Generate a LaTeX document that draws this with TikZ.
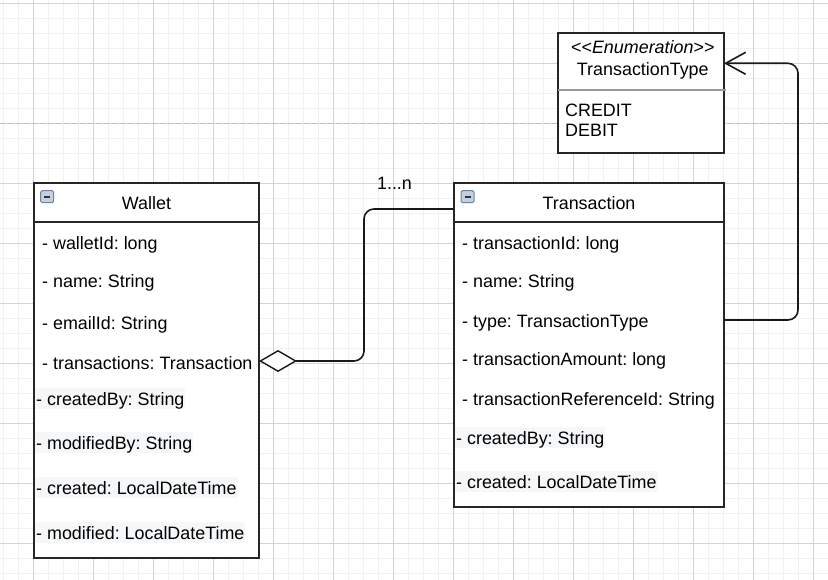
\documentclass[tikz,border=0pt]{standalone}
\usepackage{fontspec}
\setmainfont{Liberation Sans}
\frenchspacing
\usetikzlibrary{arrows.meta}
\definecolor{gridmin}{HTML}{F1F1F1}
\definecolor{gridmaj}{HTML}{D4D4D4}
\definecolor{boxln}{HTML}{262626}
\definecolor{hlc}{HTML}{F6F7F9}
\definecolor{sepgray}{HTML}{9A9A9A}
\definecolor{iconfill}{HTML}{C4D0E0}
\definecolor{iconline}{HTML}{6F839E}
\newcommand\dfont{\fontsize{17.9pt}{21pt}\selectfont}
\begin{document}
\begin{tikzpicture}[x=1pt,y=-1pt,
  umlbox/.style={draw=boxln, line width=1.7pt, fill=white, inner sep=0pt, outer sep=0pt, anchor=north west},
  attr/.style={inner sep=0pt, anchor=base west, font=\dfont, text=black},
  hl/.style={attr, fill=hlc, inner xsep=1pt, text height=17pt, text depth=4pt},
  title/.style={inner sep=0pt, anchor=base, font=\dfont, text=black},
  conn/.style={draw=black!90, line width=1.6pt, rounded corners=10pt},
  minusicon/.pic={
    \draw[iconline, fill=iconfill, line width=1pt, rounded corners=1.5pt] (0,0) rectangle (13,12);
    \draw[black!80, line width=1.8pt] (3.5,6) -- (9.5,6);
  }]
\useasboundingbox (0,0) rectangle (828,580);
\fill[white] (0,0) rectangle (828,580);
% grid
\foreach \i in {0,...,55} {\draw[gridmin, line width=1pt] ({3.3+15*\i},0) -- ({3.3+15*\i},580);}
\foreach \i in {0,...,38} {\draw[gridmin, line width=1pt] (0,{3.3+15*\i}) -- (828,{3.3+15*\i});}
\foreach \i in {0,...,13} {\draw[gridmaj, line width=1pt] ({33.3+60*\i},0) -- ({33.3+60*\i},580);}
\foreach \i in {0,...,9} {\draw[gridmaj, line width=1pt] (0,{3.3+60*\i}) -- (828,{3.3+60*\i});}
% page break
\draw[black!25, line width=1pt, dash pattern=on 5pt off 3pt] (0,123.3) -- (828,123.3);

% Wallet
\node[umlbox, minimum width=225pt, minimum height=375pt] (wallet) at (34,183) {};
\draw[boxln, line width=1.7pt] (34,222.3) -- (259,222.3);
\pic at (40.7,190.7) {minusicon};
\node[title] (wt) at (146.5,210) {Wallet};
\node[attr] (w1) at (42,249.5) {- walletId: long};
\node[attr] (w2) at (42,288) {- name: String};
\node[attr] (w3) at (42,330) {- emailId: String};
\node[attr] (w4) at (42,369) {- transactions: Transaction};
\node[hl] (w5) at (35,405.3) {- createdBy: String};
\node[hl] (w6) at (35,449.3) {- modifiedBy: String};
\node[hl] (w7) at (35,494.3) {- created: LocalDateTime};
\node[hl] (w8) at (35,539.3) {- modified: LocalDateTime};

% Transaction
\node[umlbox, minimum width=270pt, minimum height=323.4pt] (trans) at (454,183.3) {};
\draw[boxln, line width=1.7pt] (454,222.3) -- (724,222.3);
\pic at (461,190.7) {minusicon};
\node[title] (tt) at (589,210) {Transaction};
\node[attr] (t1) at (462,249.5) {- transactionId: long};
\node[attr] (t2) at (462,288) {- name: String};
\node[attr] (t3) at (462,327) {- type: TransactionType};
\node[attr] (t4) at (462,366) {- transactionAmount: long};
\node[attr] (t5) at (462,405) {- transactionReferenceId: String};
\node[hl] (t6) at (455,444) {- createdBy: String};
\node[hl] (t7) at (455,488.3) {- created: LocalDateTime};

% Enumeration
\node[umlbox, minimum width=165.7pt, minimum height=119.4pt] (enum) at (558.3,33.3) {};
\draw[sepgray, line width=1.5pt] (558.3,90) -- (725.7,90);
\node[title] (es) at (642.8,53.3) {{<}{<}\textit{Enumeration}{>}{>}};
\node[title] (en) at (642.8,75.7) {TransactionType};
\node[attr] (e1) at (565,116.7) {CREDIT};
\node[attr] (e2) at (565,136.7) {DEBIT};

% connectors
\coordinate (wA) at (wallet.east |- 0,361);
\coordinate (tA) at (trans.west |- 0,209);
\draw[conn, {Diamond[open, fill=white, length=38pt, width=22pt, line width=1.4pt]}-] (wA) -| (364,209) -- (tA);
\node[title] (mult) at (394.5,189.3) {1...n};

\coordinate (tB) at (trans.east |- 0,320);
\coordinate (eB) at (enum.east |- 0,63.3);
\draw[conn, -{Straight Barb[length=20pt, width=22pt, line width=1.6pt]}] (tB) -- (798,320) -- (798,63.3) -- (eB);
\end{tikzpicture}
\end{document}
